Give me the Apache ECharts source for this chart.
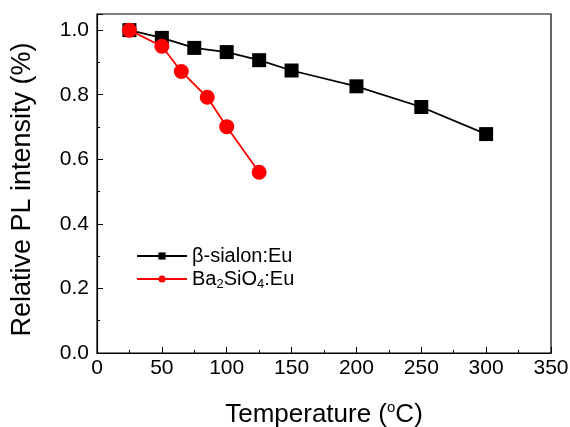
<!DOCTYPE html>
<html><head><meta charset="utf-8">
<script src="https://cdn.jsdelivr.net/npm/echarts@6/dist/echarts.min.js"></script>
<style>html,body{margin:0;padding:0;background:#fff}#c{width:570px;height:427px}</style>
</head><body><div id="c"></div>
<script>
var sialonT = [25, 50, 75, 100, 125, 150, 200, 250, 300];
var sialonI = [1.0, 0.976, 0.945, 0.932, 0.907, 0.875, 0.826, 0.762, 0.678];
var baT = [25, 50, 65, 85, 100, 125];
var baI = [1.0, 0.950, 0.872, 0.792, 0.701, 0.560];
var xTicks = [0, 50, 100, 150, 200, 250, 300, 350];
var yTicks = [0.0, 0.2, 0.4, 0.6, 0.8, 1.0];

function pairs(a, b) { return a.map(function (v, i) { return [v, b[i]]; }); }

var font = 'Liberation Sans, Arial, sans-serif';
var chart = echarts.init(document.getElementById('c'));
chart.setOption({
  animation: false,
  grid: { left: 97, right: 19, top: 14, bottom: 74, show: true, borderColor: '#000', borderWidth: 1.2,
    outerBoundsMode: 'none', containLabel: false },
  legend: {
    left: 131, top: 241, orient: 'vertical', itemGap: 3, itemWidth: 50, itemHeight: 9,
    data: ['sialon', 'ba'],
    formatter: function (n) { return n === 'sialon' ? 'β-sialon:Eu' : 'Ba{sub|2}SiO{sub|4}:Eu'; },
    textStyle: { fontFamily: font, fontSize: 20, color: '#000',
      rich: { sub: { fontSize: 13, fontFamily: font, padding: [11, 0, 0, 0] } } }
  },
  xAxis: {
    type: 'value', min: 0, max: 350, interval: 50,
    name: 'Temperature ({sup|o}C)', nameLocation: 'middle', nameGap: 47,
    nameTextStyle: { fontFamily: font, fontSize: 26, color: '#000',
      rich: { sup: { fontSize: 15, fontFamily: font, padding: [0, 0, 14, 0] } } },
    axisLine: { lineStyle: { color: '#000', width: 1.2 } },
    axisTick: { inside: true, length: 6, lineStyle: { color: '#000' } },
    minorTick: { show: true, splitNumber: 2, length: 3, lineStyle: { color: '#000' } },
    splitLine: { show: false },
    axisLabel: { fontFamily: font, fontSize: 21, color: '#000', margin: 5,
      formatter: function (v) { return xTicks.indexOf(v) >= 0 ? String(v) : ''; } }
  },
  yAxis: {
    type: 'value', min: 0, max: 1.05, interval: 0.2,
    name: 'Relative PL intensity (%)', nameLocation: 'middle', nameGap: 61,
    nameTextStyle: { fontFamily: font, fontSize: 27, color: '#000', padding: [0, 12, 0, 0] },
    axisLine: { lineStyle: { color: '#000', width: 1.2 } },
    axisTick: { inside: true, length: 6, lineStyle: { color: '#000' } },
    minorTick: { show: true, splitNumber: 2, length: 3, lineStyle: { color: '#000' } },
    splitLine: { show: false },
    axisLabel: { fontFamily: font, fontSize: 21, color: '#000', margin: 8,
      formatter: function (v) { return yTicks.some(function (t) { return Math.abs(t - v) < 1e-6; }) ? v.toFixed(1) : ''; } }
  },
  series: [
    { name: 'sialon', type: 'line', data: pairs(sialonT, sialonI), symbol: 'rect', symbolSize: 14,
      itemStyle: { color: '#000' }, lineStyle: { color: '#000', width: 1.8 }, z: 2 },
    { name: 'ba', type: 'line', data: pairs(baT, baI), symbol: 'circle', symbolSize: 15,
      itemStyle: { color: '#ff0000' }, lineStyle: { color: '#ff0000', width: 1.8 }, z: 3 }
  ]
});
</script></body></html>
